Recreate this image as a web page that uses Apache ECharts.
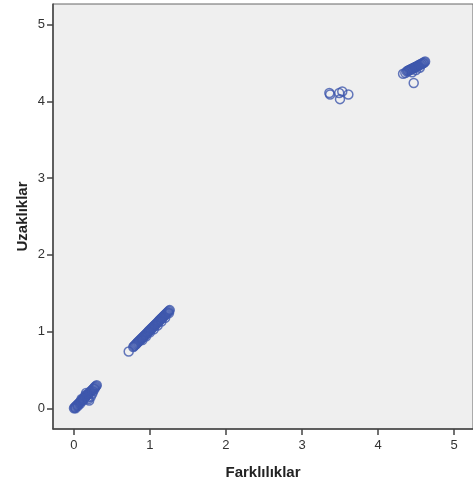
<!DOCTYPE html>
<html>
<head>
<meta charset="utf-8">
<script src="https://cdn.jsdelivr.net/npm/echarts@6/dist/echarts.min.js"></script>
<style>html,body{margin:0;padding:0;background:#fff}#c{width:473px;height:485px}</style>
</head>
<body>
<div id="c"></div>
<script>
// Disparities (x) and distances (y), cluster by cluster
const farkliliklar = [
  // cluster near 0
  0.00,0.01,0.02,0.03,0.04,0.05,0.06,0.07,0.08,0.09,0.10,0.11,0.12,0.13,0.14,0.15,0.16,0.17,0.18,0.19,0.20,0.21,0.22,0.23,0.24,0.25,0.26,0.27,0.28,0.29,0.30,
  0.02,0.05,0.08,0.12,0.15,0.18,0.19,0.22,0.20,0.24,0.27,0.16,0.10,0.25,
  // cluster near 1
  0.72,
  0.78,0.79,0.80,0.81,0.82,0.83,0.84,0.85,0.86,0.87,0.88,0.89,0.90,0.91,0.92,0.93,0.94,0.95,0.96,0.97,0.98,0.99,1.00,1.01,1.02,1.03,1.04,1.05,1.06,1.07,1.08,1.09,1.10,1.11,1.12,1.13,1.14,1.15,1.16,1.17,1.18,1.19,1.20,1.21,1.22,1.23,1.24,1.25,1.26,
  0.90,0.95,1.00,1.05,1.10,1.15,1.20,1.25,
  // cluster near 3.5 / 4.1
  3.36,3.37,3.49,3.53,3.50,3.61,
  // cluster near 4.5
  4.33,4.36,
  4.38,4.39,4.40,4.41,4.42,4.43,4.44,4.45,4.46,4.47,4.48,4.49,4.50,4.51,4.52,4.53,4.54,4.55,4.56,4.57,4.58,4.59,4.60,4.61,4.62,
  4.47,4.45,4.50,4.55
];
const uzakliklar = [
  0.00,0.01,0.02,0.03,0.04,0.05,0.06,0.07,0.08,0.09,0.10,0.11,0.12,0.13,0.14,0.15,0.16,0.17,0.18,0.19,0.20,0.21,0.22,0.23,0.24,0.25,0.26,0.27,0.28,0.29,0.30,
  0.00,0.03,0.06,0.10,0.17,0.14,0.12,0.15,0.10,0.19,0.25,0.20,0.12,0.22,
  0.74,
  0.80,0.81,0.82,0.83,0.84,0.85,0.86,0.87,0.88,0.89,0.90,0.91,0.92,0.93,0.94,0.95,0.96,0.97,0.98,0.99,1.00,1.01,1.02,1.03,1.04,1.05,1.06,1.07,1.08,1.09,1.10,1.11,1.12,1.13,1.14,1.15,1.16,1.17,1.18,1.19,1.20,1.21,1.22,1.23,1.24,1.25,1.26,1.27,1.28,
  0.89,0.94,0.99,1.03,1.08,1.13,1.18,1.24,
  4.11,4.09,4.11,4.13,4.03,4.09,
  4.36,4.37,
  4.39,4.40,4.40,4.41,4.41,4.42,4.42,4.43,4.43,4.44,4.44,4.45,4.45,4.46,4.46,4.47,4.47,4.48,4.48,4.49,4.49,4.50,4.50,4.51,4.52,
  4.24,4.38,4.41,4.44
];
const tickValues = [0, 1, 2, 3, 4, 5];
const xName = 'Farklılıklar';
const yName = 'Uzaklıklar';

const points = farkliliklar.map((x, i) => [x, uzakliklar[i]]);
const chart = echarts.init(document.getElementById('c'), null, {renderer: 'canvas'});
const labelStyle = {color: '#333', fontSize: 13, fontFamily: 'Liberation Sans, Arial, sans-serif'};
const nameStyle = {color: '#222', fontSize: 15, fontWeight: 'bold', fontFamily: '"Liberation Sans Narrow", "Liberation Sans", Arial, sans-serif'};
const lineStyle = {color: '#444', width: 1.5};
chart.setOption({
  animation: false,
  grid: {left: 53, top: 4, right: -1, bottom: 55, show: true, backgroundColor: '#EFEFEF', borderColor: '#666', borderWidth: 1},
  xAxis: {
    type: 'value', min: -0.276, max: 5.25,
    name: xName, nameLocation: 'middle', nameGap: 36, nameTextStyle: nameStyle,
    splitLine: {show: false},
    axisLine: {onZero: false, lineStyle: lineStyle},
    axisTick: {customValues: tickValues, length: 6, lineStyle: lineStyle},
    axisLabel: Object.assign({customValues: tickValues, margin: 10}, labelStyle)
  },
  yAxis: {
    type: 'value', min: -0.27, max: 5.27,
    name: yName, nameLocation: 'middle', nameGap: 23, nameMoveOverlap: false, nameTextStyle: nameStyle,
    splitLine: {show: false},
    axisLine: {onZero: false, lineStyle: lineStyle},
    axisTick: {customValues: tickValues, length: 6, lineStyle: lineStyle},
    axisLabel: Object.assign({customValues: tickValues, margin: 8}, labelStyle)
  },
  series: [{
    type: 'scatter',
    data: points,
    symbol: 'circle',
    symbolSize: 9,
    itemStyle: {color: 'rgba(0,0,0,0)', borderColor: '#3E58AC', borderWidth: 1.5},
    emphasis: {disabled: true}
  }]
});
</script>
</body>
</html>
